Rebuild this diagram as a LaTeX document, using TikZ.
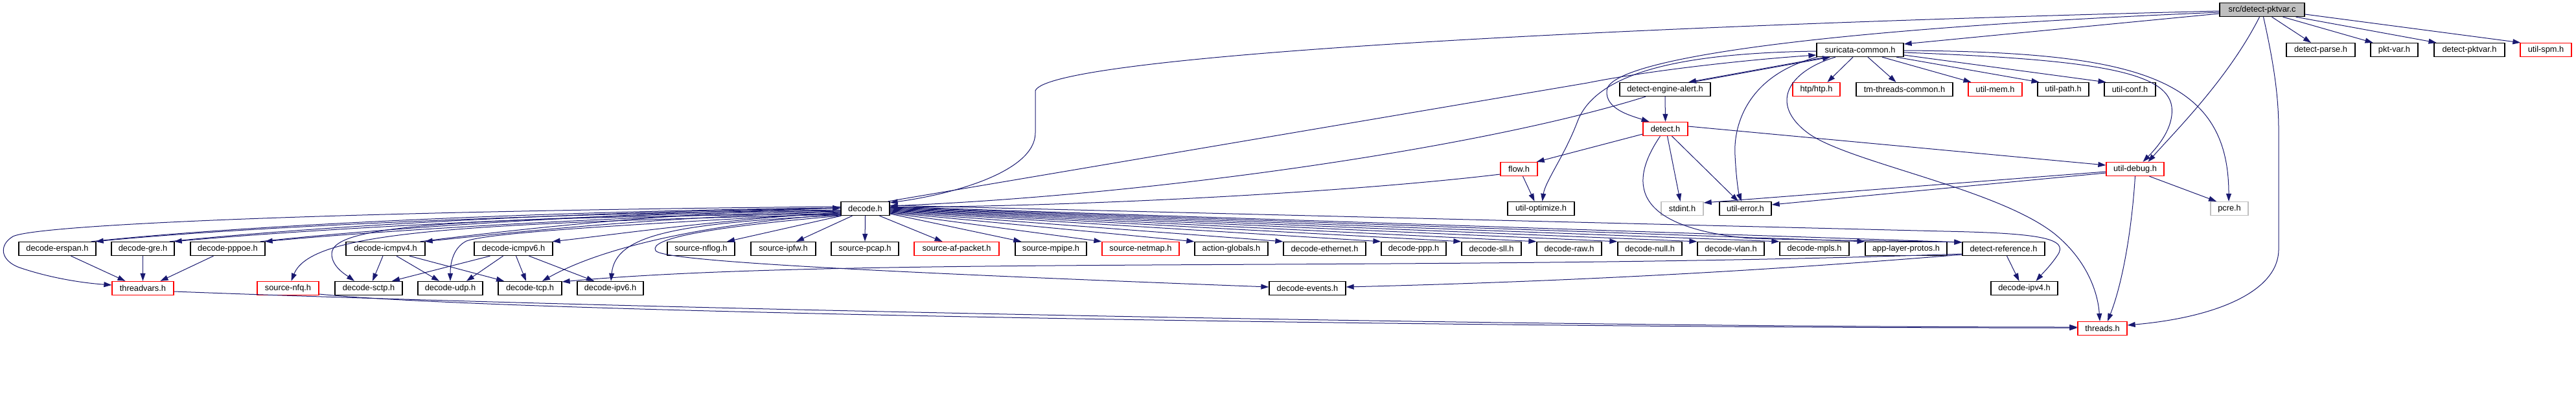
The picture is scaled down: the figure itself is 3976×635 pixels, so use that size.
\documentclass[tikz,border=0pt]{standalone}
\usepackage{fontspec}
\setmainfont{Liberation Sans}
\usetikzlibrary{arrows.meta}
\definecolor{edgec}{HTML}{191970}
\definecolor{grayc}{HTML}{BFBFBF}
\definecolor{redc}{HTML}{FF0000}
\tikzset{
  filebox/.style={draw=black, line width=1.3pt, fill=white, minimum height=21pt, inner sep=0pt, font=\fontsize{12.8}{14}\selectfont},
  redbox/.style={filebox, draw=redc},
  graybox/.style={filebox, draw=grayc},
  edge/.style={draw=edgec, line width=1pt, -{Triangle[length=12pt,width=8pt]}},
}
\begin{document}
\begin{tikzpicture}[x=1pt,y=-1pt]
\useasboundingbox (0,0) rectangle (3976,635);
% row 0
\node[filebox, fill=grayc, minimum width=131pt] (pktvar) at (3491.5,15) {src/detect-pktvar.c};
% row 1
\node[filebox, minimum width=134pt] (sc) at (2871,77) {suricata-common.h};
\node[filebox, minimum width=106pt] (dparse) at (3582,77) {detect-parse.h};
\node[filebox, minimum width=73pt] (pktvarh) at (3695.5,77) {pkt-var.h};
\node[filebox, minimum width=109pt] (dpktvar) at (3811.5,77) {detect-pktvar.h};
\node[redbox, minimum width=79pt] (spm) at (3929.5,77) {util-spm.h};
% row 2
\node[filebox, minimum width=140pt] (dea) at (2570,138) {detect-engine-alert.h};
\node[redbox, minimum width=73pt] (htp) at (2803.5,138) {htp/htp.h};
\node[filebox, minimum width=149pt] (tmtc) at (2939.5,138) {tm-threads-common.h};
\node[redbox, minimum width=83pt] (umem) at (3079.5,138) {util-mem.h};
\node[filebox, minimum width=79pt] (upath) at (3184.5,138) {util-path.h};
\node[filebox, minimum width=79pt] (uconf) at (3287.5,138) {util-conf.h};
% row 3/4
\node[redbox, minimum width=69pt] (detect) at (2570.5,199) {detect.h};
\node[redbox, minimum width=57pt] (flow) at (2344.5,261) {flow.h};
\node[redbox, minimum width=89pt] (udebug) at (3295.5,261) {util-debug.h};
% row 5
\node[filebox, minimum width=75pt] (decode) at (1335.5,322) {decode.h};
\node[filebox, minimum width=103pt] (uopt) at (2378.5,322) {util-optimize.h};
\node[graybox, minimum width=65pt] (stdint) at (2596.5,322) {stdint.h};
\node[filebox, minimum width=80pt] (uerr) at (2694,322) {util-error.h};
\node[graybox, minimum width=58pt] (pcre) at (3441,322) {pcre.h};
% row 6
\node[filebox, minimum width=119pt] (erspan) at (88.5,384) {decode-erspan.h};
\node[filebox, minimum width=97pt] (gre) at (220.5,384) {decode-gre.h};
\node[filebox, minimum width=115pt] (pppoe) at (351.5,384) {decode-pppoe.h};
\node[filebox, minimum width=122pt] (icmpv4) at (595,384) {decode-icmpv4.h};
\node[filebox, minimum width=121pt] (icmpv6) at (792.5,384) {decode-icmpv6.h};
\node[filebox, minimum width=104pt] (nflog) at (1082,384) {source-nflog.h};
\node[filebox, minimum width=100pt] (ipfw) at (1209,384) {source-ipfw.h};
\node[filebox, minimum width=104pt] (pcap) at (1335,384) {source-pcap.h};
\node[redbox, minimum width=131pt] (afp) at (1476.5,384) {source-af-packet.h};
\node[filebox, minimum width=110pt] (mpipe) at (1622,384) {source-mpipe.h};
\node[redbox, minimum width=119pt] (netmap) at (1760.5,384) {source-netmap.h};
\node[filebox, minimum width=113pt] (actg) at (1900.5,384) {action-globals.h};
\node[filebox, minimum width=127pt] (eth) at (2044.5,384) {decode-ethernet.h};
\node[filebox, minimum width=100pt] (ppp) at (2182,384) {decode-ppp.h};
\node[filebox, minimum width=92pt] (sll) at (2302,384) {decode-sll.h};
\node[filebox, minimum width=100pt] (raw) at (2422,384) {decode-raw.h};
\node[filebox, minimum width=99pt] (dnull) at (2546.5,384) {decode-null.h};
\node[filebox, minimum width=103pt] (vlan) at (2671.5,384) {decode-vlan.h};
\node[filebox, minimum width=107pt] (mpls) at (2800.5,384) {decode-mpls.h};
\node[filebox, minimum width=126pt] (alp) at (2942,384) {app-layer-protos.h};
\node[filebox, minimum width=127pt] (dref) at (3092.5,384) {detect-reference.h};
% row 7
\node[redbox, minimum width=95pt] (threadvars) at (220.5,445) {threadvars.h};
\node[redbox, minimum width=95pt] (nfq) at (444.5,445) {source-nfq.h};
\node[filebox, minimum width=104pt] (sctp) at (569,445) {decode-sctp.h};
\node[filebox, minimum width=100pt] (udp) at (695,445) {decode-udp.h};
\node[filebox, minimum width=98pt] (tcp) at (818,445) {decode-tcp.h};
\node[filebox, minimum width=102pt] (ipv6) at (942,445) {decode-ipv6.h};
\node[filebox, minimum width=118pt] (events) at (2018,445) {decode-events.h};
\node[filebox, minimum width=103pt] (ipv4) at (3124.5,445) {decode-ipv4.h};
% row 8
\node[redbox, minimum width=76pt] (threads) at (3245,507) {threads.h};

% ---- edges from src/detect-pktvar.c
\draw[edge] ([yshift=-6]pktvar.west) -- ([yshift=9]sc.east);
\draw[edge] ([yshift=-2]pktvar.west) .. controls (2500,40) and (1620,85) .. (1598,140) -- (1598,205) .. controls (1598,265) and (1470,300) .. ([yshift=-2]decode.north east);
\draw[edge] ([yshift=-4]pktvar.west) .. controls (2800,45) and (2482,92) .. (2480,140) .. controls (2478,168) and (2515,178) .. ([xshift=-25]detect.north);
\draw[edge] ([xshift=-4]pktvar.south) .. controls (3440,120) and (3360,200) .. ([xshift=20]udebug.north);
\draw[edge] ([xshift=2]pktvar.south) .. controls (3510,100) and (3517,150) .. (3517,200) -- (3517,385) .. controls (3517,450) and (3420,490) .. ([yshift=5]threads.east);
\draw[edge] ([xshift=15]pktvar.south) -- ([xshift=-15]dparse.north);
\draw[edge] ([xshift=32]pktvar.south) -- ([xshift=-33]pktvarh.north);
\draw[edge] ([xshift=52]pktvar.south) -- ([xshift=-51]dpktvar.north);
\draw[edge] ([yshift=-7]pktvar.east) -- ([xshift=1]spm.north west);

% ---- edges from suricata-common.h
\draw[edge] ([yshift=-2]sc.west) .. controls (2600,82) and (2465,110) .. (2435,187) .. controls (2415,240) and (2385,280) .. ([xshift=2]uopt.north);
\draw[edge] ([xshift=-52]sc.south) -- ([xshift=36]dea.north);
\draw[edge] ([xshift=-66]sc.south) .. controls (2700,115) and (2675,190) .. (2678,240) .. controls (2680,280) and (2684,300) .. ([xshift=-6]uerr.north);
\draw[edge] ([xshift=-38]sc.south) .. controls (2760,110) and (2730,160) .. (2790,205) .. controls (2850,250) and (3080,290) .. (3170,360) .. controls (3220,400) and (3238,450) .. ([xshift=-4]threads.north);
\draw[edge] ([xshift=-11]sc.south) -- ([xshift=17]htp.north);
\draw[edge] ([xshift=12]sc.south) -- ([xshift=-13]tmtc.north);
\draw[edge] ([xshift=34]sc.south) -- ([xshift=-37]umem.north);
\draw[edge] ([xshift=56]sc.south) -- ([xshift=-37]upath.north);
\draw[edge] ([yshift=-8]sc.east) -- ([xshift=-37]uconf.north);
\draw[edge] ([yshift=-4]sc.east) .. controls (3230,92) and (3345,110) .. (3352,165) .. controls (3356,200) and (3325,232) .. ([xshift=12]udebug.north);
\draw[edge] ([yshift=-1]sc.east) .. controls (3300,80) and (3440,120) .. ([xshift=-1]pcre.north);

% ---- detect-engine-alert.h, detect.h, flow.h, util-debug.h
\draw[edge] ([xshift=42]dea.north) -- ([xshift=-46]sc.south);
\draw[edge] ([xshift=-30]dea.south) .. controls (2300,225) and (1800,300) .. ([yshift=4]decode.east);
\draw[edge] (dea.south) -- (detect.north);
\draw[edge] ([yshift=-8]detect.west) -- ([xshift=-2]flow.north east);
\draw[edge] ([xshift=3]detect.south) -- ([xshift=-3]stdint.north);
\draw[edge] ([xshift=10]detect.south) -- ([xshift=-11]uerr.north);
\draw[edge] ([yshift=4]detect.east) -- ([yshift=6]udebug.west);
\draw[edge] ([xshift=-8]detect.south) .. controls (2515,280) and (2515,350) .. (2700,368) .. controls (2850,372) and (2950,372) .. ([yshift=10]dref.west);
\draw[edge] ([yshift=-8]flow.west) .. controls (2100,295) and (1700,318) .. ([yshift=2]decode.east);
\draw[edge] ([xshift=6]flow.south) -- ([xshift=-10]uopt.north);
\draw[edge] ([yshift=-4]udebug.west) -- ([yshift=9]stdint.east);
\draw[edge] ([yshift=-6]udebug.west) -- ([yshift=6]uerr.east);
\draw[edge] ([xshift=22]udebug.south) -- ([xshift=-20]pcre.north);
\draw[edge] (udebug.south) .. controls (3290,360) and (3275,440) .. ([xshift=8]threads.north);

% ---- decode.h
\draw[edge] ([xshift=-3]decode.north east) -- (2450,128) .. controls (2550,108) and (2700,92) .. ([yshift=-8]sc.west);
\draw[edge] ([xshift=-37]decode.south) -- ([xshift=40]nflog.north);
\draw[edge] ([xshift=-20]decode.south) -- ([xshift=20]ipfw.north);
\draw[edge] (decode.south) -- (pcap.north);
\draw[edge] ([xshift=22]decode.south) -- ([xshift=-22]afp.north);
\draw[edge] ([yshift=-8]decode.east) -- ([xshift=10]mpipe.north west);
\draw[edge] ([yshift=-7]decode.east) -- (netmap.north west);
\draw[edge] ([yshift=-6]decode.east) -- (actg.north west);
\draw[edge] ([yshift=-5]decode.east) -- (eth.north west);
\draw[edge] ([yshift=-4]decode.east) -- (ppp.north west);
\draw[edge] ([yshift=-3]decode.east) -- (sll.north west);
\draw[edge] ([yshift=-2]decode.east) -- (raw.north west);
\draw[edge] ([yshift=-1]decode.east) -- (dnull.north west);
\draw[edge] ([yshift=0]decode.east) -- (vlan.north west);
\draw[edge] ([yshift=1]decode.east) -- (mpls.north west);
\draw[edge] ([yshift=2]decode.east) -- (alp.north west);
\draw[edge] ([yshift=3]decode.east) -- ([yshift=10]dref.west);
\draw[edge] ([yshift=5]decode.east) -- (3000,357) .. controls (3150,360) and (3195,368) .. (3175,395) .. controls (3165,410) and (3150,425) .. ([xshift=18]ipv4.north);

\draw[edge] ([yshift=-2]decode.west) .. controls (900,328) and (400,348) .. ([xshift=-1]erspan.north east);
\draw[edge] ([xshift=-8]erspan.north east) .. controls (400,345) and (900,325) .. ([yshift=1]decode.west);
\draw[edge] ([yshift=-3]decode.west) .. controls (900,331) and (500,352) .. ([xshift=-1]gre.north east);
\draw[edge] ([xshift=-8]gre.north east) .. controls (500,348) and (900,327) .. ([yshift=1]decode.west);
\draw[edge] ([yshift=-4]decode.west) .. controls (950,334) and (600,355) .. ([xshift=-1]pppoe.north east);
\draw[edge] ([xshift=-8]pppoe.north east) .. controls (600,351) and (950,329) .. ([yshift=1]decode.west);
\draw[edge] ([yshift=-5]decode.west) .. controls (1000,336) and (800,358) .. ([xshift=-1]icmpv4.north east);
\draw[edge] ([xshift=-8]icmpv4.north east) .. controls (800,354) and (1000,331) .. ([yshift=1]decode.west);
\draw[edge] ([yshift=-6]decode.west) .. controls (1100,340) and (950,362) .. ([xshift=-1]icmpv6.north east);
\draw[edge] ([yshift=3]decode.west) .. controls (600,325) and (60,345) .. (20,365) .. controls (-2,378) and (0,402) .. (30,413) .. controls (80,430) and (130,437) .. ([yshift=5]threadvars.west);
\draw[edge] ([yshift=-9]decode.west) .. controls (700,345) and (480,358) .. ([xshift=5]nfq.north);
\draw[edge] ([yshift=-8]decode.west) .. controls (690,336) and (512,348) .. (512,392) .. controls (512,412) and (535,425) .. ([xshift=-22]sctp.north);
\draw[edge] ([yshift=-7]decode.west) .. controls (1000,345) and (760,358) .. (720,372) .. controls (700,382) and (695,405) .. (udp.north);
\draw[edge] ([yshift=-9]decode.west) .. controls (1150,340) and (950,370) .. ([xshift=19]tcp.north);
\draw[edge] ([yshift=-10]decode.west) .. controls (1050,345) and (950,360) .. ([xshift=1]ipv6.north);
\draw[edge] (decode.south west) .. controls (1100,350) and (1000,368) .. (1012,387) .. controls (1022,402) and (1300,418) .. ([yshift=2]events.west);

% ---- row 6 to row 7
\draw[edge] ([xshift=21]erspan.south) -- ([xshift=-27]threadvars.north);
\draw[edge] (gre.south) -- (threadvars.north);
\draw[edge] ([xshift=-22]pppoe.south) -- ([xshift=27]threadvars.north);
\draw[edge] ([xshift=-4]icmpv4.south) -- ([xshift=6]sctp.north);
\draw[edge] ([xshift=17]icmpv4.south) -- ([xshift=-17]udp.north);
\draw[edge] ([xshift=37]icmpv4.south) -- ([xshift=-40]tcp.north);
\draw[edge] ([xshift=-36]icmpv6.south) -- ([xshift=36]sctp.north);
\draw[edge] ([xshift=-16]icmpv6.south) -- ([xshift=25]udp.north);
\draw[edge] ([xshift=4]icmpv6.south) -- ([xshift=-6]tcp.north);
\draw[edge] ([xshift=24]icmpv6.south) -- ([xshift=-25]ipv6.north);
\draw[edge] ([xshift=5]dref.south) -- ([xshift=-8]ipv4.north);
\draw[edge] ([yshift=-8]dref.west) .. controls (2200,420) and (1300,395) .. ([yshift=10]tcp.east);
\draw[edge] ([yshift=-9]dref.west) .. controls (2700,420) and (2400,435) .. ([yshift=2]events.east);

% ---- to threads.h
\draw[edge] ([yshift=-5]threadvars.east) .. controls (1000,478) and (2400,505) .. ([yshift=2]threads.west);
\draw[edge] ([yshift=-9]nfq.east) .. controls (800,485) and (2400,507) .. ([yshift=1]threads.west);
\end{tikzpicture}
\end{document}
